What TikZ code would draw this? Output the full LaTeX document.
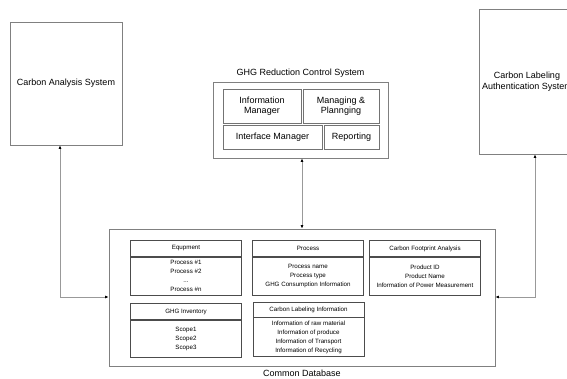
\documentclass[tikz,border=0pt]{standalone}
\usepackage{fontspec}
\setmainfont{Liberation Sans}
\usetikzlibrary{arrows.meta,positioning}

\begin{document}
\begin{tikzpicture}[
  x=1pt, y=-1pt,
  font=\fontsize{9}{10.5}\selectfont,
  sysbox/.style={draw=black!50, line width=0.8pt, align=center},
  part/.style={draw=black!55, line width=0.8pt, align=center, inner sep=1pt},
  cell/.style={draw=black!70, line width=0.6pt, align=center, inner sep=1pt,
               minimum width=111pt, font=\fontsize{6.2}{9}\selectfont},
  head/.style={cell, minimum height=16pt},
  body/.style={cell, minimum height=38pt},
  link/.style={{Latex[length=3.5pt,width=3pt,color=black]}-{Latex[length=3.5pt,width=3pt,color=black]},
               draw=black!40, line width=1pt}
]
\useasboundingbox (0,0) rectangle (567,379);

\node[sysbox, minimum width=112pt, minimum height=123pt] (cas) at (66,83.5)
  {Carbon Analysis System};
\node[sysbox, minimum width=96pt, minimum height=145pt] (clas) at (527,81.5)
  {Carbon Labeling\\Authentication System};

\node[sysbox, minimum width=175pt, minimum height=76pt] (ghg) at (300.5,120) {};
\node (ghgtitle) at (300.5,73) {GHG Reduction Control System};
\node[part, minimum width=78pt, minimum height=34pt] (infoman) at (262,106)
  {Information\\Manager};
\node[part, minimum width=76pt, minimum height=34pt] (planning) at (341,106)
  {Managing \&\\Plannging};
\node[part, minimum width=99pt, minimum height=24pt] (ifman) at (272.5,137)
  {Interface Manager};
\node[part, minimum width=55pt, minimum height=24pt] (report) at (351.5,137)
  {Reporting};

\node[sysbox, minimum width=386pt, minimum height=137pt] (db) at (302,297.5) {};
\node (dbtitle) at (302,373) {Common Database};

\node[head] (equiphead) at (186,248.5) {Equpment};
\node[body, below=0pt of equiphead] (equipbody)
  {Process \#1\\Process \#2\\...\\Process \#n};
\node[head] (prochead) at (308,248.5) {Process};
\node[body, below=0pt of prochead] (procbody)
  {Process name\\Process type\\GHG Consumption Information};
\node[head] (cfahead) at (425,248.5) {Carbon Footprint Analysis};
\node[body, below=0pt of cfahead] (cfabody)
  {Product ID\\Product Name\\Information of Power Measurement};

\node[head] (invhead) at (186,311.5) {GHG Inventory};
\node[body, minimum height=37pt, below=0pt of invhead] (invbody)
  {Scope1\\Scope2\\Scope3};
\node[head, minimum height=15pt] (clihead) at (308.5,309.5) {Carbon Labeling Information};
\node[body, minimum height=39pt, below=0pt of clihead] (clibody)
  {Information of raw material\\Information of produce\\Information of Transport\\Information of Recycling};

\coordinate (lbend) at (60,297);
\coordinate (rbend) at (535,297);
\draw[link] (lbend |- cas.south) -- (lbend) -- (lbend -| db.west);
\draw[link] (rbend |- clas.south) -- (rbend) -- (rbend -| db.east);
\draw[link] (db.north |- ghg.south) -- (db.north);
\end{tikzpicture}
\end{document}
